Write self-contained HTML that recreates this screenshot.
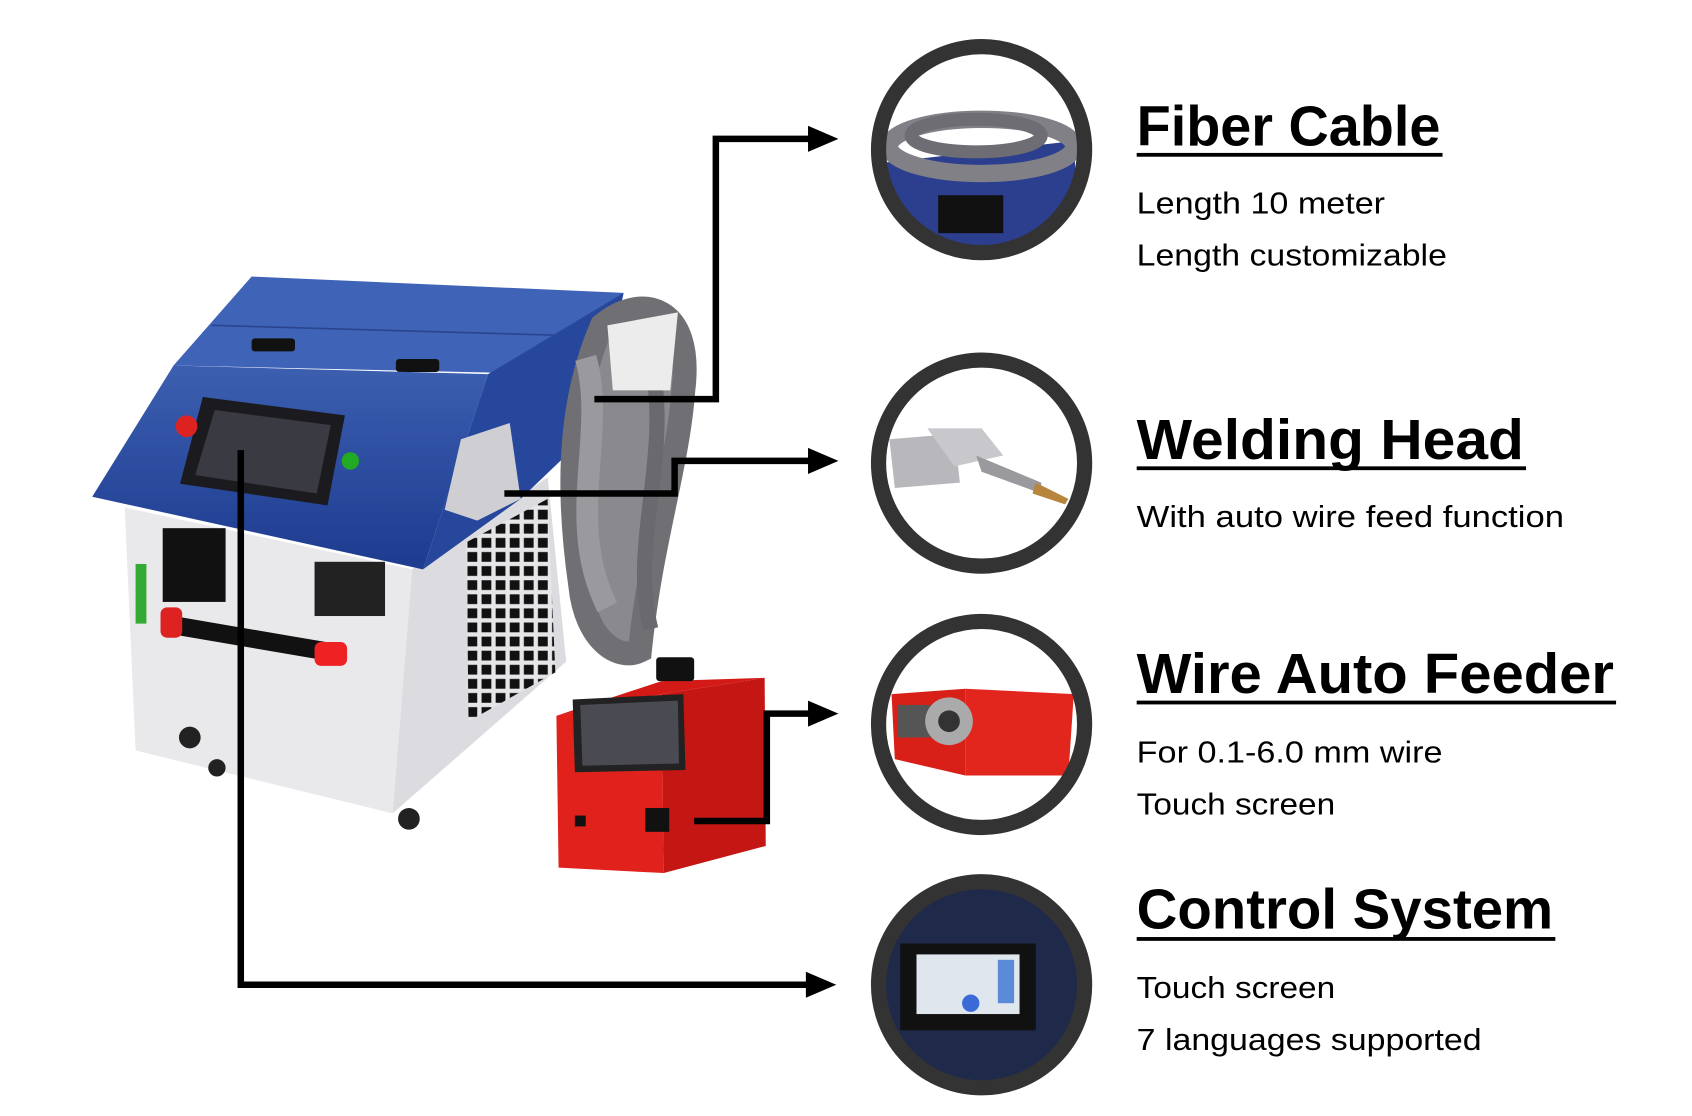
<!DOCTYPE html>
<html><head><meta charset="utf-8"><style>html,body{margin:0;padding:0;background:#fff;}svg{display:block}</style></head>
<body>
<svg width="1692" height="1116" viewBox="0 0 1560 1029" preserveAspectRatio="none" xmlns="http://www.w3.org/2000/svg">
<defs>
<clipPath id="c1"><circle cx="905" cy="138" r="95"/></clipPath>
<clipPath id="c2"><circle cx="905" cy="427" r="95"/></clipPath>
<clipPath id="c3"><circle cx="905" cy="668" r="95"/></clipPath>
<clipPath id="c4"><circle cx="905" cy="908" r="95"/></clipPath>
<linearGradient id="bl" x1="0" y1="0" x2="0" y2="1"><stop offset="0" stop-color="#3c5fb0"/><stop offset="1" stop-color="#1d3b8f"/></linearGradient>
<pattern id="grill" width="13" height="13" patternUnits="userSpaceOnUse"><rect width="13" height="13" fill="#e6e6e8"/><rect x="2" y="2" width="9" height="9" fill="#111"/></pattern>
</defs>

<!-- main machine -->
<polygon points="160,337 232,255 575,270 520,345" fill="#3f63b6"/>
<line x1="195" y1="300" x2="545" y2="310" stroke="#2a4590" stroke-width="1.5"/>
<rect x="232" y="312" width="40" height="12" rx="3" fill="#111"/>
<rect x="365" y="331" width="40" height="12" rx="3" fill="#111"/>
<polygon points="115,468 380,525 362,750 125,692" fill="#e9e9ec"/>
<polygon points="380,525 505,440 522,610 362,750" fill="#dcdce0"/>
<polygon points="430,500 505,460 512,620 432,665" fill="url(#grill)"/>
<polygon points="160,337 450,345 390,525 85,458" fill="url(#bl)"/>
<polygon points="450,345 575,270 548,395 480,460 390,525" fill="#27479c"/>
<polygon points="187,366 318,383 302,466 166,446" fill="#1b1b1f"/>
<polygon points="198,378 305,392 292,455 180,438" fill="#3a3a42"/>
<circle cx="172" cy="393" r="10" fill="#d22"/>
<circle cx="323" cy="425" r="8" fill="#2a2"/>
<rect x="150" y="487" width="58" height="68" fill="#111"/>
<rect x="125" y="520" width="10" height="55" fill="#3a3"/>
<rect x="290" y="518" width="65" height="50" fill="#222"/>
<polygon points="160,568 318,595 318,612 160,585" fill="#111"/>
<rect x="290" y="592" width="30" height="22" rx="6" fill="#e22"/>
<rect x="148" y="560" width="20" height="28" rx="6" fill="#d22"/>
<circle cx="175" cy="680" r="10" fill="#222"/>
<circle cx="200" cy="708" r="8" fill="#222"/>
<circle cx="377" cy="755" r="10" fill="#222"/>
<!-- cable coil -->
<path d="M555 300 C590 270 640 280 630 360 C625 430 600 500 590 600 C570 610 540 590 535 540 C525 470 520 380 555 300 Z" fill="#8a8a8e" stroke="#707074" stroke-width="22"/>
<path d="M540 330 C560 400 520 480 560 560" fill="none" stroke="#9a9a9e" stroke-width="20"/>
<path d="M600 330 C620 420 580 500 600 580" fill="none" stroke="#6a6a6e" stroke-width="14"/>
<polygon points="560,300 625,288 618,360 565,360" fill="#ececec"/>
<polygon points="425,405 470,390 480,460 440,480 410,470" fill="#cfcfd3"/>
<!-- red feeder -->
<polygon points="513,660 610,640 612,805 515,800" fill="#e0211c"/>
<polygon points="610,640 705,625 706,780 612,805" fill="#c41612"/>
<polygon points="513,660 610,640 705,625 610,628" fill="#d41a16"/>
<rect x="605" y="606" width="35" height="22" rx="3" fill="#111"/>
<polygon points="528,645 630,640 632,710 530,712" fill="#222"/>
<polygon points="535,650 625,646 626,704 537,706" fill="#4a4a52"/>
<rect x="595" y="745" width="22" height="22" fill="#111"/>
<rect x="530" y="752" width="10" height="10" fill="#111"/>

<!-- connectors -->
<g fill="none" stroke="#000" stroke-width="6">
<polyline points="548,368 660,368 660,128 748,128"/>
<polyline points="465,455 622,455 622,425 748,425"/>
<polyline points="640,757 707,757 707,658 748,658"/>
<polyline points="222,415 222,908 746,908"/>
</g>
<g fill="#000">
<polygon points="745,116 773,128 745,140"/>
<polygon points="745,413 773,425 745,437"/>
<polygon points="745,646 773,658 745,670"/>
<polygon points="743,896 771,908 743,920"/>
</g>

<!-- circle 1 -->
<g clip-path="url(#c1)">
<rect x="800" y="30" width="210" height="220" fill="#fff"/>
<polygon points="815,150 990,130 995,220 820,240" fill="#2c3f8e"/>
<ellipse cx="905" cy="135" rx="85" ry="25" fill="none" stroke="#808086" stroke-width="16"/>
<ellipse cx="900" cy="125" rx="60" ry="15" fill="none" stroke="#6d6d73" stroke-width="12"/>
<rect x="865" y="180" width="60" height="35" fill="#111"/>
</g>
<circle cx="905" cy="138" r="95" fill="none" stroke="#333" stroke-width="14"/>
<!-- circle 2 -->
<g clip-path="url(#c2)">
<polygon points="820,405 880,400 885,445 825,450" fill="#b8b8bc"/>
<polygon points="855,395 905,395 925,420 880,430" fill="#c8c8cc"/>
<polygon points="900,420 960,445 960,455 905,435" fill="#9a9a9e"/>
<polygon points="955,445 985,460 982,465 952,455" fill="#b8853c"/>
</g>
<circle cx="905" cy="427" r="95" fill="none" stroke="#333" stroke-width="14"/>
<!-- circle 3 -->
<g clip-path="url(#c3)">
<polygon points="822,640 890,635 890,715 825,700" fill="#d82018"/>
<polygon points="890,635 990,640 985,715 890,715" fill="#e2261e"/>
<rect x="828" y="650" width="30" height="30" fill="#555"/>
<circle cx="875" cy="665" r="22" fill="#aaa"/>
<circle cx="875" cy="665" r="10" fill="#333"/>
</g>
<circle cx="905" cy="668" r="95" fill="none" stroke="#333" stroke-width="14"/>
<!-- circle 4 -->
<g clip-path="url(#c4)">
<rect x="800" y="800" width="210" height="220" fill="#1f2a4a"/>
<rect x="830" y="870" width="125" height="80" fill="#111"/>
<rect x="845" y="880" width="95" height="55" fill="#e0e6ee"/>
<circle cx="895" cy="925" r="8" fill="#3a6ad8"/>
<rect x="920" y="885" width="15" height="40" fill="#5b8ad8"/>
</g>
<circle cx="905" cy="908" r="95" fill="none" stroke="#333" stroke-width="14"/>

<!-- text -->
<g font-family="'Liberation Sans', sans-serif" fill="#000">
<text x="1048" y="134" font-size="52" font-weight="bold" textLength="280" lengthAdjust="spacingAndGlyphs">Fiber Cable</text>
<rect x="1048" y="141" width="282" height="3.5"/>
<text x="1048" y="197" font-size="28" textLength="229" lengthAdjust="spacingAndGlyphs">Length 10 meter</text>
<text x="1048" y="245" font-size="28" textLength="286" lengthAdjust="spacingAndGlyphs">Length customizable</text>

<text x="1048" y="423" font-size="52" font-weight="bold" textLength="357" lengthAdjust="spacingAndGlyphs">Welding Head</text>
<rect x="1048" y="430" width="359" height="3.5"/>
<text x="1048" y="486" font-size="28" textLength="394" lengthAdjust="spacingAndGlyphs">With auto wire feed function</text>

<text x="1048" y="639" font-size="52" font-weight="bold" textLength="440" lengthAdjust="spacingAndGlyphs">Wire Auto Feeder</text>
<rect x="1048" y="646" width="442" height="3.5"/>
<text x="1048" y="703" font-size="28" textLength="282" lengthAdjust="spacingAndGlyphs">For 0.1-6.0 mm wire</text>
<text x="1048" y="751" font-size="28" textLength="183" lengthAdjust="spacingAndGlyphs">Touch screen</text>

<text x="1048" y="856" font-size="52" font-weight="bold" textLength="384" lengthAdjust="spacingAndGlyphs">Control System</text>
<rect x="1048" y="864" width="386" height="3.5"/>
<text x="1048" y="920" font-size="28" textLength="183" lengthAdjust="spacingAndGlyphs">Touch screen</text>
<text x="1048" y="968" font-size="28" textLength="318" lengthAdjust="spacingAndGlyphs">7 languages supported</text>
</g>
</svg>
</body></html>
